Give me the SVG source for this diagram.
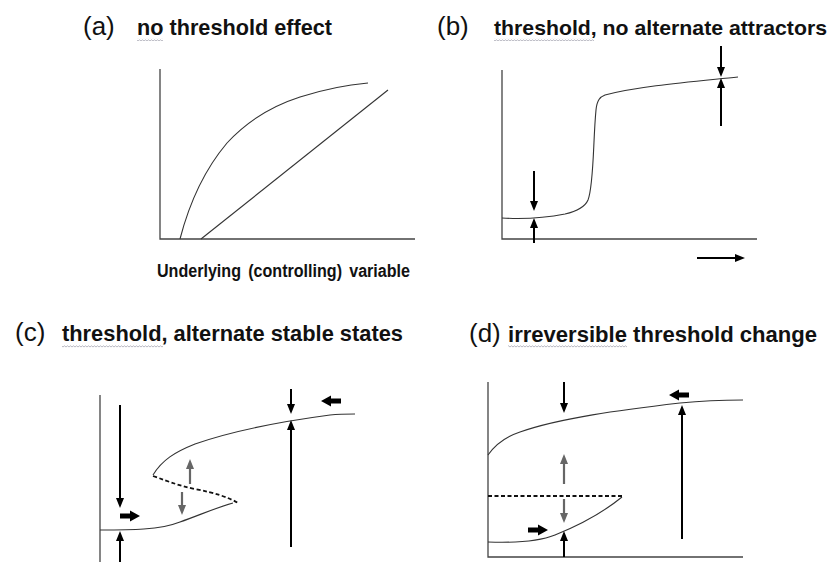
<svg xmlns="http://www.w3.org/2000/svg" width="836" height="562" viewBox="0 0 836 562">
<style>
  .lbl { font-family: "Liberation Sans", Arial, sans-serif; font-size: 26px; fill: #111; }
  .ttl { font-family: "Liberation Sans", Arial, sans-serif; font-size: 22px; font-weight: bold; fill: #111; }
  .xl { font-family: "Liberation Sans", Arial, sans-serif; font-size: 17.5px; font-weight: bold; fill: #111; word-spacing: 3px; }
  .axis { stroke: #444; stroke-width: 1.3; fill: none; }
  .curve { stroke: #333; stroke-width: 1.1; fill: none; }
  .dash { stroke: #111; stroke-width: 1.8; stroke-dasharray: 4 2.5; fill: none; }
  .arr { stroke: #000; stroke-width: 2; fill: none; marker-end: url(#ah); }
  .garr { stroke: #666; stroke-width: 2.2; fill: none; marker-end: url(#gah); }
  .blk { fill: #000; }
  .sq { fill: url(#squig); }
</style>
<defs>
  <marker id="ah" viewBox="0 0 10 8" markerWidth="10" markerHeight="9" refX="6" refY="4" orient="auto" markerUnits="userSpaceOnUse">
    <path d="M0,0 L10,4 L0,8 Z" fill="#000"/>
  </marker>
  <marker id="gah" viewBox="0 0 10 8" markerWidth="10" markerHeight="9" refX="6" refY="4" orient="auto" markerUnits="userSpaceOnUse">
    <path d="M0,0 L10,4 L0,8 Z" fill="#666"/>
  </marker>
  <path id="block" d="M0,-2.4 H10 V-5.5 L20,0 L10,5.5 V2.4 H0 Z"/>
  <pattern id="squig" patternUnits="userSpaceOnUse" x="0" y="0" width="3" height="3">
    <path d="M0,2 L1.5,0.8 L3,2" stroke="#9a9aa6" stroke-width="0.7" fill="none"/>
  </pattern>
</defs>

<g id="panel-a">
  <text class="lbl" x="83" y="35">(a)</text>
  <text class="ttl" x="137" y="35" textLength="195" lengthAdjust="spacingAndGlyphs">no threshold effect</text>
  <rect class="sq" x="137" y="38" width="26" height="3"/>
  <path class="axis" d="M160,69 V239 H415"/>
  <path class="curve" d="M180,239 C187,212 200,175 227,143 C250,118 275,105 300,97 C325,89 345,85 368,83"/>
  <path class="curve" d="M201,239 L388,90"/>
  <text class="xl" x="157" y="277" textLength="253" lengthAdjust="spacingAndGlyphs">Underlying (controlling) variable</text>
</g>

<g id="panel-b">
  <text class="lbl" x="437" y="35">(b)</text>
  <text class="ttl" x="494" y="35" style="font-size:21px" textLength="333" lengthAdjust="spacingAndGlyphs">threshold, no alternate attractors</text>
  <rect class="sq" x="494" y="38" width="100" height="3"/>
  <path class="axis" d="M502,70 V239 H757"/>
  <path class="curve" d="M502,218 C520,219 545,218 565,214 C578,211 585,207 588,200 C594,185 593,140 596,110 C597,100 600,97 605,95 C640,86 690,82 738,77"/>
</g>

<g id="panel-c">
  <text class="lbl" x="15" y="341">(c)</text>
  <text class="ttl" x="62" y="341" textLength="341" lengthAdjust="spacingAndGlyphs">threshold, alternate stable states</text>
  <rect class="sq" x="62" y="345" width="101" height="3"/>
  <path class="axis" d="M100,395 V562"/>
  <path class="curve" d="M100,530 C130,530 160,530 180,522 C200,515 215,508 233,503"/>
  <path class="curve" d="M153,475 C162,460 175,452 195,444 C235,430 285,421 330,415 C340,414 348,414 355,414"/>
  <path class="dash" d="M153,476 C170,482 180,486 195,489 C215,493 228,497 238,503"/>
</g>

<g id="panel-d">
  <text class="lbl" x="469" y="342">(d)</text>
  <text class="ttl" x="508" y="342" textLength="309" lengthAdjust="spacingAndGlyphs">irreversible threshold change</text>
  <rect class="sq" x="508" y="345" width="119" height="3"/>
  <path class="axis" d="M488,382 V557 H743"/>
  <path class="curve" d="M488,455 C495,445 505,437 520,432 C560,418 620,410 680,403 C710,400 725,400 743,400"/>
  <path class="curve" d="M488,542 C515,543 540,541 555,535 C575,527 600,515 622,497"/>
  <path class="dash" d="M488,496 H622"/>
</g>

<g id="connectors">
  <!-- panel b -->
  <line class="arr" x1="534" y1="171" x2="534" y2="207"/>
  <line class="arr" x1="534" y1="243" x2="534" y2="222"/>
  <line class="arr" x1="721" y1="46" x2="721" y2="73"/>
  <line class="arr" x1="721" y1="126" x2="721" y2="82"/>
  <line class="arr" x1="697" y1="258" x2="741" y2="258"/>
  <!-- panel c -->
  <line class="arr" x1="120" y1="405" x2="120" y2="504"/>
  <line class="arr" x1="120" y1="562" x2="120" y2="535"/>
  <line class="arr" x1="291" y1="389" x2="291" y2="410"/>
  <line class="arr" x1="291" y1="547" x2="291" y2="424"/>
  <line class="garr" x1="190" y1="484" x2="190" y2="463"/>
  <line class="garr" x1="182" y1="492" x2="182" y2="511"/>
  <use href="#block" class="blk" transform="translate(120,516)"/>
  <use href="#block" class="blk" transform="translate(341,401) scale(-1,1)"/>
  <!-- panel d -->
  <line class="arr" x1="564" y1="382" x2="564" y2="409"/>
  <line class="garr" x1="564" y1="484" x2="564" y2="458"/>
  <line class="garr" x1="564" y1="499" x2="564" y2="519"/>
  <line class="arr" x1="564" y1="557" x2="564" y2="535"/>
  <line class="arr" x1="682" y1="539" x2="682" y2="409"/>
  <use href="#block" class="blk" transform="translate(528,530)"/>
  <use href="#block" class="blk" transform="translate(689,395) scale(-1,1)"/>
</g>
</svg>
